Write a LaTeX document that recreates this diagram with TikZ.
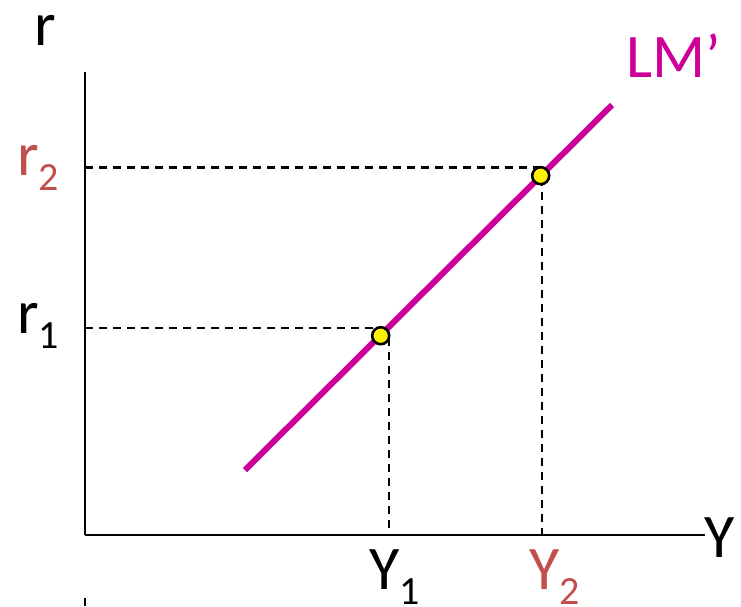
\documentclass[tikz,border=0pt]{standalone}
\usepackage{fontspec}
\setmainfont{Carlito}
\definecolor{lmcol}{HTML}{CC0099}
\definecolor{redlab}{HTML}{C0504D}
\newcommand\mysub[1]{\raisebox{-15pt}{\fontsize{40}{40}\selectfont #1}}
\begin{document}
\begin{tikzpicture}[x=1pt,y=-1pt,
  axisline/.style={line width=2.8pt,black},
  dashline/.style={line width=2.4pt,dash pattern=on 8pt off 6pt},
  curve/.style={line width=6pt,lmcol},
  eqpt/.style={circle,fill=yellow,draw=black,line width=2.6pt,minimum size=17pt,inner sep=0pt},
  lab/.style={inner sep=0pt,anchor=base west,font=\fontsize{62}{62}\selectfont}]
\useasboundingbox (0,0) rectangle (741,606);
\coordinate (o) at (85,535);
\coordinate (ytop) at (85,72);
\coordinate (xend) at (705,535);
\coordinate (r2a) at (85,167.5);
\coordinate (r1a) at (85,328);
\coordinate (y1a) at (389,535);
\coordinate (y2a) at (542,535);
\coordinate (lms) at (245,470);
\coordinate (lme) at (612,105);
\coordinate (tk1) at (85,598);
\coordinate (tk2) at (85,606);
% dashed guides
\draw[dashline] (r2a) -- (540,167.5) coordinate (r2b);
\draw[dashline] (542,178) coordinate (y2b) -- (y2a);
\draw[dashline] (r1a) -- (381,328) coordinate (r1b);
\draw[dashline] (389,338) coordinate (y1b) -- (y1a);
% axes
\draw[axisline] (ytop) -- (o);
\draw[line width=2.2pt] (o) -- (xend);
\draw[axisline] (tk1) -- (tk2);
% LM curve
\draw[curve] (lms) -- (lme);
% points
\node[eqpt] (p1) at (380.7,335.7) {};
\node[eqpt] (p2) at (540.7,175.7) {};
% labels
\node[lab] (rl) at (34,45) {r};
\node[lab,text=redlab] (r2l) at (17,175) {r\mysub{2}};
\node[lab] (r1l) at (17,333) {r\mysub{1}};
\node[lab] (y1l) at (369,589) {Y\mysub{1}};
\node[lab,text=redlab] (y2l) at (529,589) {Y\mysub{2}};
\node[lab] (yl) at (704,557) {Y};
\node[lab,text=lmcol] (lml) at (626,77) {LM’};
\end{tikzpicture}
\end{document}
